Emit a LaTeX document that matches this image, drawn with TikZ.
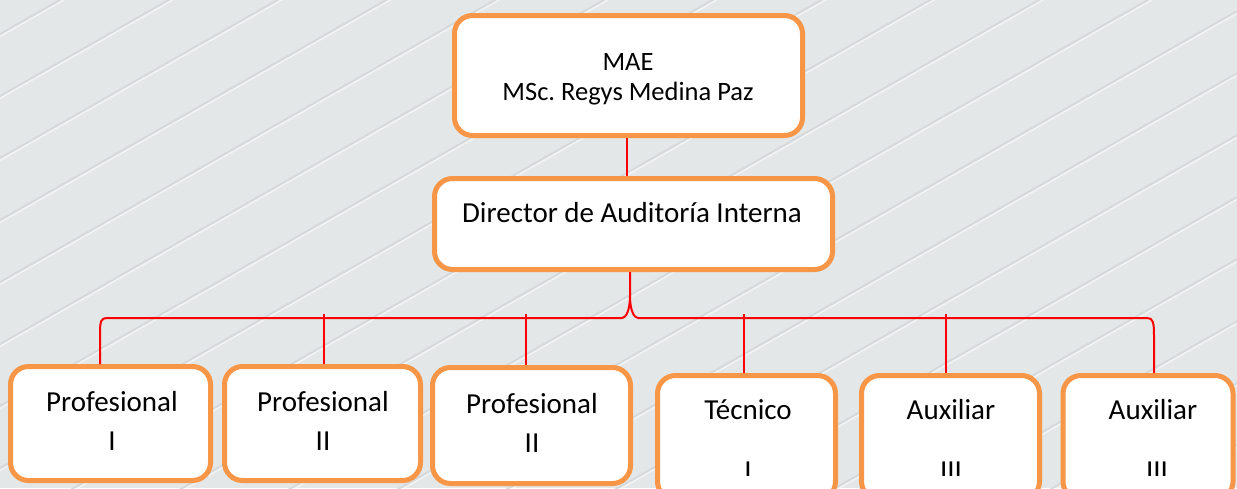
\documentclass[tikz,border=0pt]{standalone}
\usepackage{fontspec}
\setmainfont{Carlito}
\definecolor{bgcol}{HTML}{E4E7E8}
\definecolor{stripe}{HTML}{D5D8DA}
\definecolor{boxorange}{HTML}{F79646}
\definecolor{conred}{HTML}{FF0000}
\tikzset{
  orgbox/.style={draw=boxorange, line width=5pt, fill=white, rounded corners=18pt, inner sep=0pt},
  conn/.style={draw=conred, line width=2pt},
  lbl/.style={anchor=base, inner sep=0pt, font=\fontsize{29}{34}\selectfont, text=black},
  toplbl/.style={anchor=base, inner sep=0pt, font=\fontsize{26.5}{31}\selectfont, text=black},
}
\begin{document}
\begin{tikzpicture}[x=1pt,y=-1pt]
\useasboundingbox (0,0) rectangle (1237,488);
\clip (0,0) rectangle (1237,488);
% background
\fill[bgcol] (0,0) rectangle (1237,488);
\foreach \i in {0,...,19}{
  \draw[stripe, line width=1.6pt] (0,{\i*62+34}) -- ++(1237,-705);
  \draw[white, line width=1.2pt, opacity=0.6] (0,{\i*62+36.5}) -- ++(1237,-705);
}
% boxes
\node[orgbox, minimum width=348pt, minimum height=120pt] (mae) at (628.5,75.5) {};
\node[orgbox, minimum width=398pt, minimum height=91pt] (dir) at (633.5,224) {};
\node[orgbox, minimum width=200pt, minimum height=114pt] (p1) at (110.5,423.5) {};
\node[orgbox, minimum width=196pt, minimum height=114pt] (p2) at (322.5,423.5) {};
\node[orgbox, minimum width=198pt, minimum height=116pt] (p3) at (531.5,425.5) {};
\node[orgbox, minimum width=178pt, minimum height=124pt] (tec) at (746.5,437.5) {};
\node[orgbox, minimum width=178pt, minimum height=124pt] (aux1) at (950.5,437.5) {};
\node[orgbox, minimum width=170pt, minimum height=124pt] (aux2) at (1148,437.5) {};
% texts
\node[toplbl] (t-mae1) at (628,70) {MAE};
\node[toplbl] (t-mae2) at (628,100) {MSc.\ Regys Medina Paz};
\node[lbl] (t-dir) at (632,222) {Director de Auditoría Interna};
\node[lbl] (t-p1a) at (112,411) {Profesional};
\node[lbl] (t-p1b) at (112,450) {I};
\node[lbl] (t-p2a) at (323,411) {Profesional};
\node[lbl] (t-p2b) at (323,450) {II};
\node[lbl] (t-p3a) at (532,413) {Profesional};
\node[lbl] (t-p3b) at (532,452) {II};
\node[lbl] (t-teca) at (748,419) {Técnico};
\node[lbl] (t-a1a) at (951,419) {Auxiliar};
\node[lbl] (t-a2a) at (1153,419) {Auxiliar};
\begin{scope}
  \clip (0,0) rectangle (1237,475);
  \node[lbl] (t-tecb) at (748,480.5) {I};
  \node[lbl] (t-a1b) at (951,480) {III};
  \node[lbl] (t-a2b) at (1157,480) {III};
\end{scope}
% connectors
\draw[conn] ([xshift=-2pt]mae.south) -- ([xshift=-7pt]dir.north);
\draw[conn] ([xshift=-3.5pt]dir.south) -- ++(0,24)
  .. controls +(0,14) and +(4,0) .. ++(-8,22)
  -- (107,318) .. controls (101,318) and (100,321) .. (100,334)
  -- ([xshift=-10.5pt]p1.north);
\draw[conn] ([xshift=-3.5pt]dir.south) ++(0,24)
  .. controls +(0,14) and +(-4,0) .. ++(8,22)
  -- (1147,318) .. controls (1153,318) and (1154,322) .. (1154,336)
  -- ([xshift=6pt]aux2.north);
\coordinate (b2) at (324,314);
\coordinate (b3) at (526,314);
\coordinate (b4) at (744,314);
\coordinate (b5) at (946,314);
\draw[conn] (b2) -- ([xshift=1.5pt]p2.north);
\draw[conn] (b3) -- ([xshift=-5.5pt]p3.north);
\draw[conn] (b4) -- ([xshift=-2.5pt]tec.north);
\draw[conn] (b5) -- ([xshift=-4.5pt]aux1.north);
\end{tikzpicture}
\end{document}
